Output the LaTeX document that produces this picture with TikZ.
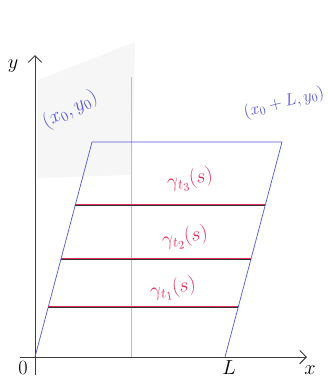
\documentclass[tikz,border=0pt]{standalone}
\usepackage{amsmath,amssymb}
\usepackage{xcolor}
\usepackage{tikz}
\usetikzlibrary{arrows.meta, positioning, calc}

\definecolor{penblue}{RGB}{85,85,215}
\definecolor{penred}{RGB}{225,45,90}
\definecolor{pencil}{RGB}{60,60,60}

\begin{document}
\begin{tikzpicture}[x=0.03cm, y=-0.03cm, every node/.style={font=\LARGE},
    axis/.style={pencil, thick, -{Straight Barb[length=2mm]}},
    frame/.style={penblue, semithick},
    curve/.style={penred, line width=1.8pt},
    curvecore/.style={black!80, line width=0.6pt},
    redlabel/.style={penred}]
    \useasboundingbox (0,0) rectangle (328,380);

    % Pencil shading
    \fill[gray!7] (38,80) -- (135,42) -- (132,175) -- (38,178) -- cycle;

    % Axes
    \coordinate (O) at (35,357);
    \coordinate (ytip) at (35,55);
    \coordinate (xtip) at (307,357);
    \draw[axis] (35,375) -- (ytip);
    \draw[axis] (20,357) -- (xtip);
    \node (ylab) at (13,66) {$y$};
    \node (xlab) at (310,370) {$x$};
    \node (olab) at (23,368) {$0$};
    \node (llab) at (229,368) {$L$};

    % Pencil guide line
    \draw[gray!50, very thin] (131,77) -- (131,357);

    % Parallelogram
    \coordinate (A) at (92,142);
    \coordinate (B) at (282,142);
    \coordinate (C) at (225,357);
    \draw[frame] (O) -- (A) -- (B) -- (C);
    \node[penblue, rotate=28] (p0) at (70,110) {$(x_0,y_0)$};
    \node[penblue, rotate=14, anchor=west, font=\Large] (p1) at (240,114) {$(x_0+L,y_0)$};

    % Level curves
    \foreach \yy/\k in {205/3, 259/2, 307/1} {
        \coordinate (l\k) at ($(O)!{(357-\yy)/215}!(A)$);
        \coordinate (r\k) at ($(C)!{(357-\yy)/215}!(B)$);
        \draw[curve] (l\k) -- (r\k);
        \draw[curvecore] (l\k) -- (r\k);
    }
    \node[redlabel, rotate=10] (g3) at (190,180) {$\gamma_{t_3}(s)$};
    \node[redlabel, rotate=10] (g2) at (185,238) {$\gamma_{t_2}(s)$};
    \node[redlabel, rotate=10] (g1) at (173,289) {$\gamma_{t_1}(s)$};
\end{tikzpicture}
\end{document}
